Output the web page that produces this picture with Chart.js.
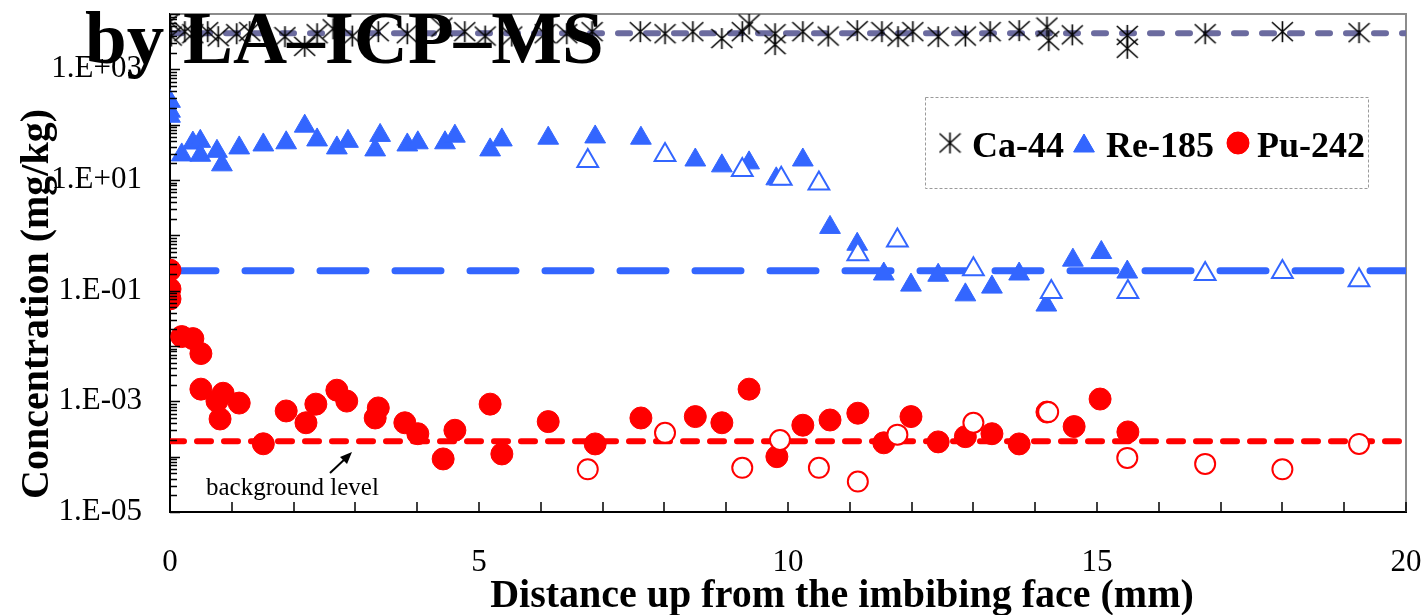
<!DOCTYPE html>
<html>
<head>
<meta charset="utf-8">
<script src="https://cdn.jsdelivr.net/npm/chart.js@4.4.1/dist/chart.umd.min.js"></script>
<style>
  html, body { margin: 0; padding: 0; background: #fff; }
  #wrap { width: 1427px; height: 615px; position: relative; }
</style>
</head>
<body>
<div id="wrap"><canvas id="concChart" width="1427" height="615"></canvas></div>
<script>
// Ca-44 (asterisks)
const caX = [0, 0.02, 0.24, 0.37, 0.61, 0.78, 1.08, 1.29, 1.86, 2.18, 2.38, 2.64, 2.95, 3.37, 3.84, 4.40, 4.77, 5.10, 5.53, 6.07, 6.42, 6.83, 7.61, 8.01, 8.46, 8.93, 9.26, 9.37, 9.79, 9.79, 10.24, 10.65, 11.12, 11.52, 11.78, 12.02, 12.43, 12.87, 13.27, 13.74, 14.19, 14.22, 14.60, 15.49, 15.49, 16.75, 18.00, 19.24];
const caY = [7200, 4000, 4800, 4400, 4800, 3900, 4400, 4800, 3900, 2600, 4400, 5400, 4000, 4800, 4400, 5800, 4800, 4000, 4000, 4400, 4400, 4800, 4800, 4400, 4800, 3600, 4800, 6600, 4400, 2800, 4800, 4000, 5000, 4800, 3900, 4800, 3900, 4000, 4800, 5000, 5800, 3300, 4200, 4100, 2400, 4400, 4800, 4600];

// Re-185 filled / open triangles
const reX = [0, 0, 0, 0.19, 0.37, 0.49, 0.49, 0.76, 0.84, 1.12, 1.51, 1.88, 2.18, 2.38, 2.70, 2.88, 3.32, 3.40, 3.84, 4.01, 4.45, 4.61, 5.18, 5.37, 6.12, 6.88, 7.62, 8.50, 8.93, 9.37, 9.81, 10.24, 10.68, 11.12, 11.55, 11.99, 12.43, 12.87, 13.30, 13.74, 14.18, 14.61, 15.07, 15.49];
const reY = [264, 175, 142, 28.4, 46.6, 50, 28, 33, 18.8, 38, 43, 47, 94, 53, 38, 50, 35, 64, 43, 47, 47, 62, 35, 53, 57, 60, 57, 23, 18, 20.4, 10.5, 23, 1.39, 0.69, 0.20, 0.126, 0.19, 0.084, 0.116, 0.20, 0.055, 0.356, 0.49, 0.217];
const reOpenX = [6.76, 8.01, 9.26, 9.89, 10.50, 11.13, 11.77, 13.00, 14.26, 15.50, 16.75, 18.00, 19.24];
const reOpenY = [22, 28.4, 15.2, 10.5, 8.6, 0.455, 0.81, 0.245, 0.095, 0.095, 0.20, 0.217, 0.155];

// Pu-242 filled / open circles
const puX = [0, 0, 0, 0.19, 0.37, 0.50, 0.50, 0.76, 0.81, 0.86, 1.12, 1.51, 1.88, 2.20, 2.36, 2.70, 2.86, 3.32, 3.37, 3.80, 4.01, 4.42, 4.61, 5.18, 5.37, 6.12, 6.88, 7.62, 8.50, 8.93, 9.37, 9.82, 10.24, 10.68, 11.13, 11.55, 11.99, 12.43, 12.87, 13.30, 13.74, 14.19, 14.63, 15.05, 15.50];
const puY = [0.235, 0.107, 0.071, 0.0148, 0.0136, 0.0073, 0.00166, 0.00101, 0.00048, 0.0014, 0.00093, 0.000171, 0.00067, 0.00041, 0.00089, 0.00159, 0.00101, 0.0005, 0.00076, 0.00041, 0.00026, 0.000091, 0.0003, 0.00089, 0.000112, 0.00043, 0.00017, 0.0005, 0.00053, 0.00041, 0.00166, 0.0001, 0.00037, 0.00046, 0.00061, 0.000178, 0.00053, 0.000185, 0.00023, 0.00026, 0.00017, 0.00064, 0.00035, 0.0011, 0.00028];
const puOpenX = [6.76, 8.01, 9.26, 9.87, 10.50, 11.13, 11.77, 13.00, 14.21, 15.49, 16.75, 18.00, 19.24];
const puOpenY = [0.000059, 0.00027, 0.000063, 0.0002, 0.000063, 0.0000355, 0.00025, 0.00041, 0.00064, 0.000095, 0.000074, 0.000059, 0.00017];

// background levels (horizontal dashed lines)
const bgX = [0, 20];
const bgCa = [4500, 4500];
const bgRe = [0.228, 0.228];
const bgPu = [0.00019, 0.00019];

// tick labels
const xLabelTicks = [0, 5, 10, 15, 20];
const yLabelExps = [-5, -3, -1, 1, 3];

const BLUE = '#3366ff';
const RED = '#ff0000';
const SERIF = "'Liberation Serif', 'Times New Roman', serif";

const pts = (xs, ys) => xs.map((x, i) => ({ x: x, y: ys[i] }));

// Excel style asterisk marker
function makeAsterisk(size) {
  const c = document.createElement('canvas');
  c.width = size; c.height = size;
  const g = c.getContext('2d');
  g.strokeStyle = '#000';
  g.lineWidth = 1.6;
  const h = size / 2;
  g.beginPath();
  g.moveTo(h, 1); g.lineTo(h, size - 1);
  g.moveTo(1, 2); g.lineTo(size - 1, size - 2);
  g.moveTo(1, size - 2); g.lineTo(size - 1, 2);
  g.stroke();
  return c;
}
const asterisk = makeAsterisk(23);

function isDecade(v) {
  const l = Math.log10(v);
  return Math.abs(l - Math.round(l)) < 1e-6;
}

// frame, inward ticks, titles, legend, annotation
const decorations = {
  id: 'decorations',
  beforeDatasetsDraw(chart) {
    const { ctx, chartArea: a } = chart;
    ctx.save();
    ctx.strokeStyle = '#8c8c8c';
    ctx.lineWidth = 2;
    ctx.beginPath();
    ctx.moveTo(a.left, a.top);
    ctx.lineTo(a.right, a.top);
    ctx.lineTo(a.right, a.bottom);
    ctx.stroke();
    ctx.restore();
  },
  afterDraw(chart) {
    const { ctx, chartArea: a, scales: { x, y } } = chart;
    ctx.save();

    // inward tick marks
    ctx.strokeStyle = '#000';
    ctx.lineWidth = 1.5;
    ctx.beginPath();
    x.ticks.forEach(t => {
      const px = Math.round(x.getPixelForValue(t.value));
      ctx.moveTo(px, a.bottom);
      ctx.lineTo(px, a.bottom - 10);
    });
    y.ticks.forEach(t => {
      const py = Math.round(y.getPixelForValue(t.value)) + 0.5;
      ctx.moveTo(a.left, py);
      ctx.lineTo(a.left + (isDecade(t.value) ? 10 : 7), py);
    });
    ctx.stroke();

    // axis titles
    ctx.fillStyle = '#000';
    ctx.font = 'bold 40px ' + SERIF;
    ctx.textAlign = 'center';
    ctx.textBaseline = 'alphabetic';
    ctx.fillText('Distance up from the imbibing face (mm)', 842, 607);
    ctx.save();
    ctx.translate(48, 304);
    ctx.rotate(-Math.PI / 2);
    ctx.fillText('Concentration (mg/kg)', 0, 0);
    ctx.restore();

    // big title overlapping the top
    ctx.textAlign = 'left';
    ctx.font = 'bold 75px ' + SERIF;
    ctx.fillText('by LA\u2013ICP\u2013MS', 85, 63);

    // background level note with arrow
    ctx.font = '25px ' + SERIF;
    ctx.fillText('background level', 206, 495);
    ctx.lineWidth = 2;
    ctx.beginPath();
    ctx.moveTo(330, 473);
    ctx.lineTo(346, 458);
    ctx.stroke();
    ctx.beginPath();
    ctx.moveTo(352, 452);
    ctx.lineTo(340, 457);
    ctx.lineTo(347, 464);
    ctx.closePath();
    ctx.fill();

    // legend box
    ctx.strokeStyle = '#9a9a9a';
    ctx.lineWidth = 1;
    ctx.setLineDash([3, 2]);
    ctx.strokeRect(925.5, 97.5, 443, 91);
    ctx.setLineDash([]);
    ctx.drawImage(asterisk, 950 - 11.5, 143 - 11.5);
    ctx.fillStyle = BLUE;
    ctx.strokeStyle = BLUE;
    Chart.helpers.drawPoint(ctx, { pointStyle: 'triangle', radius: 12, borderWidth: 1, rotation: 0 }, 1084, 146);
    ctx.fill();
    ctx.fillStyle = RED;
    ctx.strokeStyle = RED;
    Chart.helpers.drawPoint(ctx, { pointStyle: 'circle', radius: 11, borderWidth: 1, rotation: 0 }, 1238, 143);
    ctx.fill();
    ctx.fillStyle = '#000';
    ctx.font = 'bold 36px ' + SERIF;
    ctx.fillText('Ca-44', 972, 157);
    ctx.fillText('Re-185', 1106, 157);
    ctx.fillText('Pu-242', 1257, 157);

    ctx.restore();
  }
};

function noPad(scale) {
  scale.paddingTop = 0;
  scale.paddingBottom = 0;
  scale.paddingLeft = 0;
  scale.paddingRight = 0;
}

const ctx = document.getElementById('concChart').getContext('2d');
new Chart(ctx, {
  type: 'scatter',
  data: {
    datasets: [
      { label: 'Pu-242 open', data: pts(puOpenX, puOpenY), order: 0, pointStyle: 'circle', pointRadius: 10, backgroundColor: '#fff', borderColor: RED, borderWidth: 2 },
      { label: 'Pu-242', data: pts(puX, puY), order: 1, pointStyle: 'circle', pointRadius: 11, backgroundColor: RED, borderColor: RED, borderWidth: 1 },
      { label: 'Re-185 open', data: pts(reOpenX, reOpenY), order: 2, pointStyle: 'triangle', pointRadius: 12, backgroundColor: '#fff', borderColor: BLUE, borderWidth: 2 },
      { label: 'Re-185', data: pts(reX, reY), order: 3, pointStyle: 'triangle', pointRadius: 12, backgroundColor: BLUE, borderColor: BLUE, borderWidth: 1 },
      { label: 'Ca-44', data: pts(caX, caY), order: 4, pointStyle: asterisk, pointRadius: 11 },
      { label: 'Ca bg', data: pts(bgX, bgCa), order: 5, showLine: true, pointRadius: 0, borderColor: '#6b6b9f', borderWidth: 6, borderDash: [12, 16], borderCapStyle: 'round' },
      { label: 'Re bg', data: pts(bgX, bgRe), order: 6, showLine: true, pointRadius: 0, borderColor: BLUE, borderWidth: 7, borderDash: [46, 29], borderCapStyle: 'round' },
      { label: 'Pu bg', data: pts(bgX, bgPu), order: 7, showLine: true, pointRadius: 0, borderColor: RED, borderWidth: 6, borderDash: [14, 13], borderCapStyle: 'round' }
    ]
  },
  options: {
    responsive: false,
    animation: false,
    events: [],
    devicePixelRatio: 1,
    layout: { padding: { top: 10, right: 21, left: 0, bottom: 0 } },
    plugins: {
      legend: { display: false },
      tooltip: { enabled: false }
    },
    scales: {
      x: {
        type: 'linear',
        min: 0,
        max: 20,
        afterFit(scale) { scale.height = 103; noPad(scale); },
        grid: { display: true, drawOnChartArea: false, drawTicks: false },
        border: { display: true, color: '#000', width: 2 },
        ticks: {
          stepSize: 1,
          autoSkip: false,
          maxRotation: 0,
          padding: 32,
          color: '#000',
          font: { family: SERIF, size: 31 },
          callback: v => xLabelTicks.includes(v) ? String(v) : ''
        }
      },
      y: {
        type: 'logarithmic',
        min: 1e-5,
        max: 1e4,
        afterFit(scale) { scale.width = 170; noPad(scale); },
        afterBuildTicks(scale) {
          const t = [];
          for (let e = -5; e < 4; e++) {
            for (let k = 1; k < 10; k++) t.push({ value: k * Math.pow(10, e) });
          }
          t.push({ value: 1e4 });
          scale.ticks = t;
        },
        grid: { display: true, drawOnChartArea: false, drawTicks: false },
        border: { display: true, color: '#000', width: 2 },
        ticks: {
          autoSkip: false,
          padding: 28,
          color: '#000',
          font: { family: SERIF, size: 31 },
          callback: v => {
            if (!isDecade(v)) return '';
            const e = Math.round(Math.log10(v));
            if (!yLabelExps.includes(e)) return '';
            return '1.E' + (e < 0 ? '-' : '+') + String(Math.abs(e)).padStart(2, '0');
          }
        }
      }
    }
  },
  plugins: [decorations]
});
</script>
</body>
</html>
